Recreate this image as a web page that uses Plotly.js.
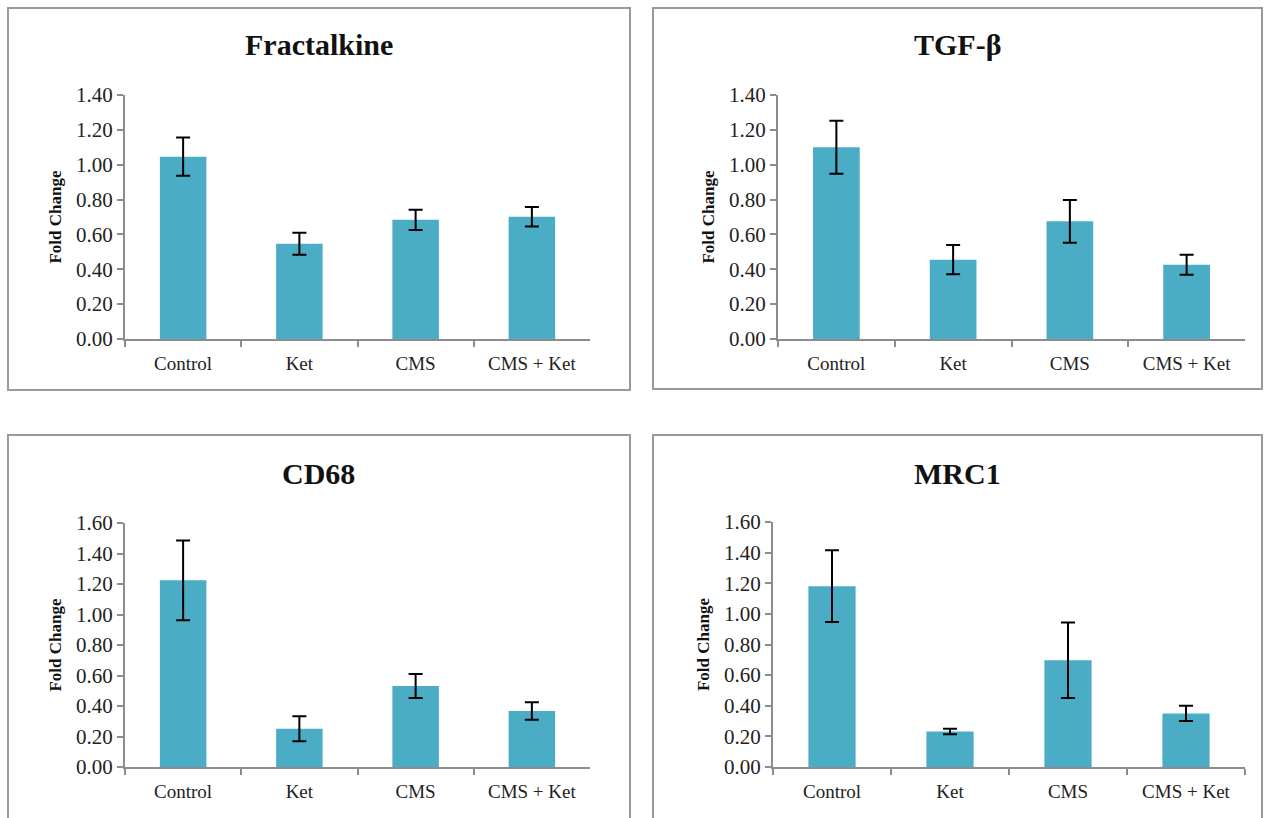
<!DOCTYPE html>
<html>
<head>
<meta charset="utf-8">
<script src="https://cdn.plot.ly/plotly-3.0.1.min.js"></script>
<style>html,body{margin:0;padding:0;background:#fff;}#chart{width:1269px;height:818px;}</style>
</head>
<body>
<div id="chart"></div>
<script>
const categories = ["Control", "Ket", "CMS", "CMS + Ket"];
const panelTitles = ["Fractalkine", "TGF-β", "CD68", "MRC1"];
const fractalkine = [1.046, 0.547, 0.684, 0.702];
const fractalkineErr = [0.110, 0.063, 0.058, 0.056];
const tgfb = [1.100, 0.455, 0.675, 0.426];
const tgfbErr = [0.152, 0.084, 0.123, 0.057];
const cd68 = [1.224, 0.251, 0.531, 0.367];
const cd68Err = [0.262, 0.082, 0.079, 0.057];
const mrc1 = [1.181, 0.232, 0.697, 0.350];
const mrc1Err = [0.234, 0.018, 0.246, 0.050];
const yMax = [1.4, 1.4, 1.6, 1.6];

const W = 1269, H = 818;
const series = [fractalkine, tgfb, cd68, mrc1];
const errs = [fractalkineErr, tgfbErr, cd68Err, mrc1Err];
const geo = [
  {x0:125, x1:590, yt:95, yb:339, bl:8, br:630, bt:8, bb:390, ty:45},
  {x0:778, x1:1245, yt:95, yb:339, bl:653, br:1262, bt:8, bb:389, ty:45},
  {x0:125, x1:590, yt:523, yb:767, bl:8, br:630, bt:435, bb:830, ty:474},
  {x0:773, x1:1245, yt:522, yb:767, bl:653, br:1262, bt:435, bb:830, ty:474}
];
const px = x => x / W;
const py = y => 1 - y / H;

const serif = "Liberation Serif, Times New Roman, serif";
const traces = [];
const layout = {
  width: W, height: H,
  margin: {l:0, r:0, t:0, b:0},
  paper_bgcolor: "#fff", plot_bgcolor: "#fff",
  showlegend: false,
  bargap: 0.6,
  shapes: [], annotations: []
};

for (let i = 0; i < 4; i++) {
  const g = geo[i];
  const xa = i === 0 ? "x" : "x" + (i + 1);
  const ya = i === 0 ? "y" : "y" + (i + 1);
  traces.push({
    type: "bar", x: categories, y: series[i], xaxis: xa, yaxis: ya,
    marker: {color: "#4BACC6", line: {width: 0}},
    error_y: {type: "data", array: errs[i], visible: true, color: "#000", thickness: 2, width: 7},
    hoverinfo: "y"
  });
  const xk = i === 0 ? "xaxis" : "xaxis" + (i + 1);
  const yk = i === 0 ? "yaxis" : "yaxis" + (i + 1);
  layout[xk] = {
    domain: [px(g.x0), px(g.x1)], anchor: ya, type: "category",
    showline: true, linecolor: "#8c8c8c", linewidth: 2,
    ticks: "outside", tickson: "boundaries", ticklen: 6, tickcolor: "#8c8c8c", tickwidth: 2,
    tickfont: {family: serif, size: 19, color: "#222"},
    ticklabelstandoff: 6,
    showgrid: false, zeroline: false, fixedrange: true
  };
  layout[yk] = {
    domain: [py(g.yb), py(g.yt)], anchor: xa, range: [0, yMax[i]],
    dtick: 0.2, tickformat: ".2f",
    showline: true, linecolor: "#8c8c8c", linewidth: 2,
    ticks: "outside", ticklen: 6, tickcolor: "#8c8c8c", tickwidth: 2,
    tickfont: {family: serif, size: 21, color: "#222"},
    showgrid: false, zeroline: false, fixedrange: true,
    title: {text: "<b>Fold Change</b>", font: {family: serif, size: 17, color: "#111"}, standoff: 10}
  };
  layout.shapes.push({
    type: "rect", xref: "paper", yref: "paper",
    x0: px(g.bl), x1: px(g.br), y0: py(g.bb), y1: py(g.bt),
    line: {color: "#9a9a9a", width: 2}, fillcolor: "rgba(0,0,0,0)", layer: "below"
  });
  layout.annotations.push({
    xref: "paper", yref: "paper", x: px((g.bl + g.br) / 2), y: py(g.ty),
    text: "<b>" + panelTitles[i] + "</b>", showarrow: false,
    xanchor: "center", yanchor: "middle",
    font: {family: serif, size: 30, color: "#111"}
  });
}

Plotly.newPlot("chart", traces, layout, {staticPlot: true, displayModeBar: false});
</script>
</body>
</html>
